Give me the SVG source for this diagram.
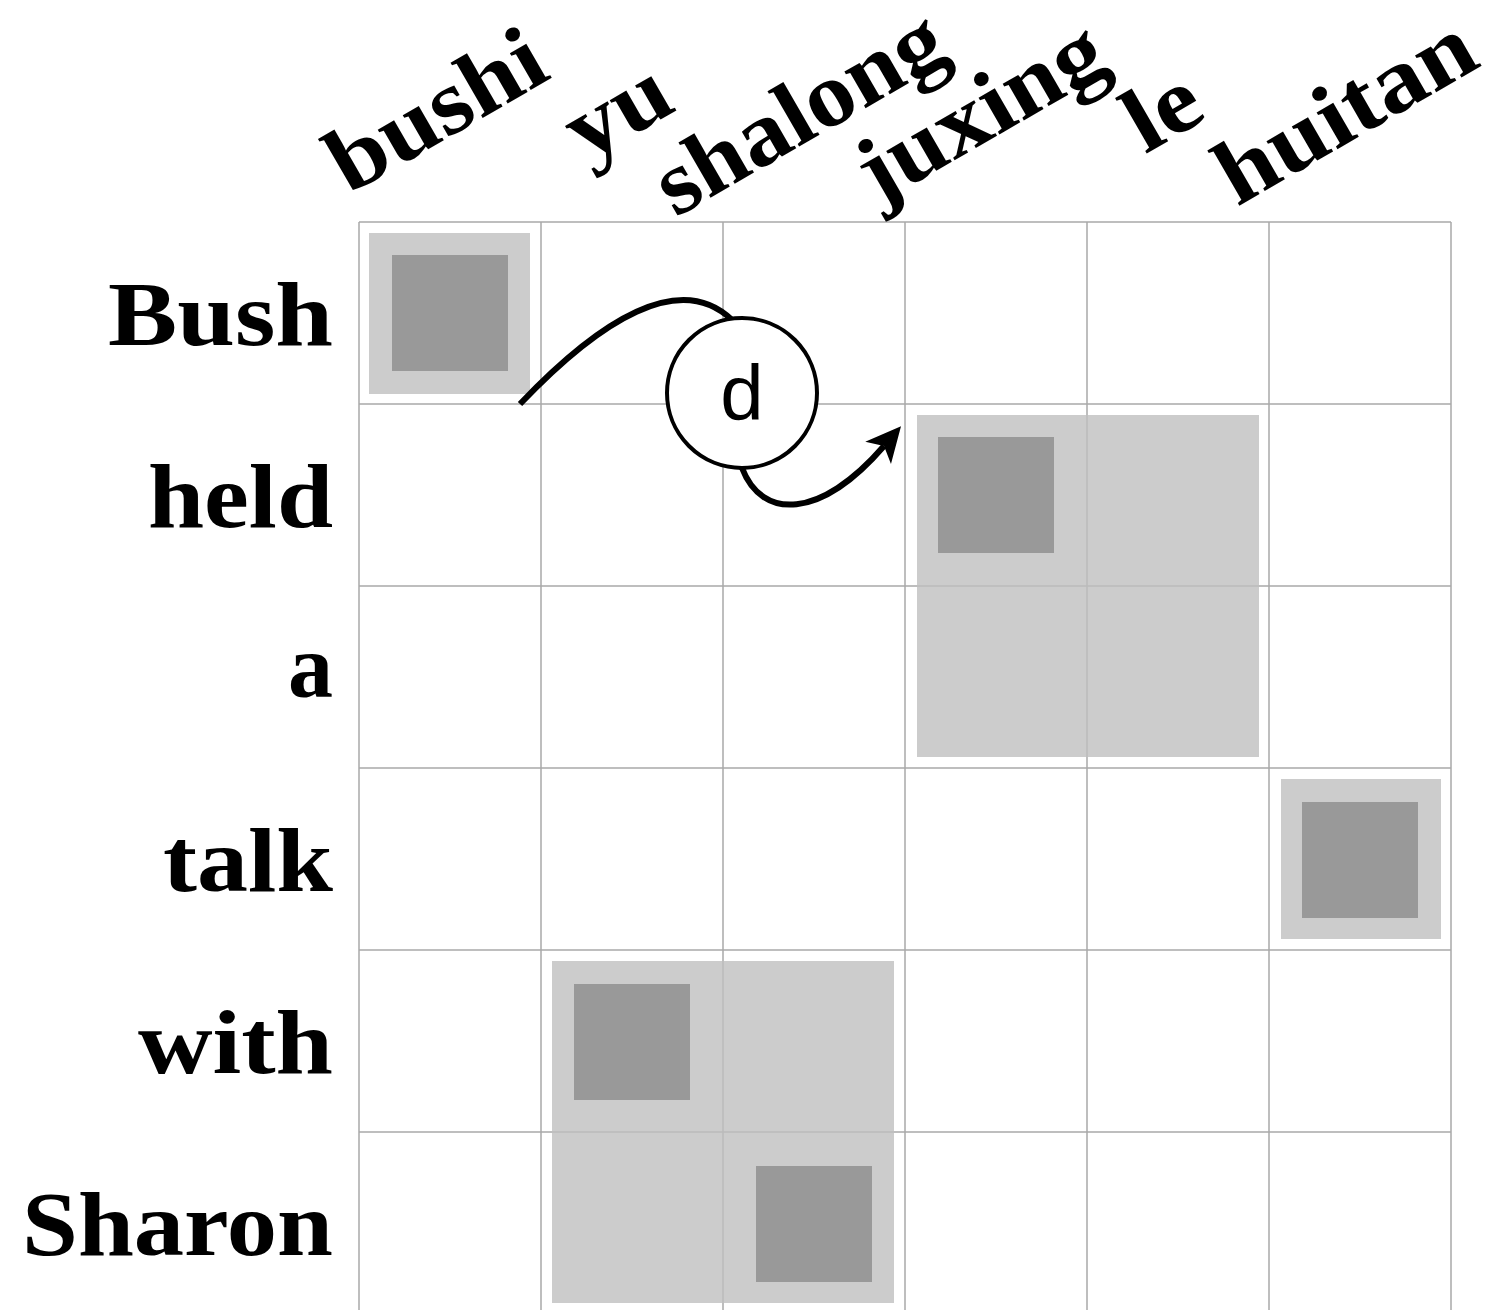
<svg xmlns="http://www.w3.org/2000/svg" width="1490" height="1310" viewBox="0 0 1490 1310">
<style>
.bg{fill:#fff}
.grid line{stroke:#a8a8a8;stroke-width:1.5}
.light{fill:#bfbfbf;fill-opacity:0.8}
.dark{fill:#999999}
.lbl{font-family:"Liberation Serif",serif;font-weight:bold;font-size:92px;fill:#000}
.edge{fill:none;stroke:#000;stroke-width:6}
.node circle{fill:#fff;stroke:#000;stroke-width:4}
.node text{font-family:"Liberation Sans",sans-serif;font-size:78px;fill:#000;text-anchor:middle}
</style>
<defs>
<marker id="arr" markerUnits="userSpaceOnUse" viewBox="-40 -22 44 44" markerWidth="44" markerHeight="44" refX="-26" refY="0" orient="auto">
<path d="M0,0 L-35,-17 L-26,0 L-35,17 Z" fill="#000"/>
</marker>
</defs>
<rect class="bg" x="0" y="0" width="1490" height="1310"/>
<g id="grid" class="grid">
<line x1="359" y1="222" x2="359" y2="1314"/>
<line x1="541" y1="222" x2="541" y2="1314"/>
<line x1="723" y1="222" x2="723" y2="1314"/>
<line x1="905" y1="222" x2="905" y2="1314"/>
<line x1="1087" y1="222" x2="1087" y2="1314"/>
<line x1="1269" y1="222" x2="1269" y2="1314"/>
<line x1="1451" y1="222" x2="1451" y2="1314"/>
<line x1="359" y1="222" x2="1451" y2="222"/>
<line x1="359" y1="404" x2="1451" y2="404"/>
<line x1="359" y1="586" x2="1451" y2="586"/>
<line x1="359" y1="768" x2="1451" y2="768"/>
<line x1="359" y1="950" x2="1451" y2="950"/>
<line x1="359" y1="1132" x2="1451" y2="1132"/>
</g>
<g id="blocks">
<rect class="light" x="369" y="233" width="161" height="161"/>
<rect class="dark" x="392" y="255" width="116" height="116"/>
<rect class="light" x="917" y="415" width="342" height="342"/>
<rect class="dark" x="938" y="437" width="116" height="116"/>
<rect class="light" x="1281" y="779" width="160" height="160"/>
<rect class="dark" x="1302" y="802" width="116" height="116"/>
<rect class="light" x="552" y="961" width="342" height="342"/>
<rect class="dark" x="574" y="984" width="116" height="116"/>
<rect class="dark" x="756" y="1166" width="116" height="116"/>
</g>
<g id="row-labels" class="lbl" text-anchor="end">
<text x="333" y="345" textLength="225" lengthAdjust="spacingAndGlyphs">Bush</text>
<text x="333" y="527" textLength="185" lengthAdjust="spacingAndGlyphs">held</text>
<text x="333" y="697" textLength="45" lengthAdjust="spacingAndGlyphs">a</text>
<text x="333" y="891" textLength="170" lengthAdjust="spacingAndGlyphs">talk</text>
<text x="333" y="1073" textLength="195" lengthAdjust="spacingAndGlyphs">with</text>
<text x="333" y="1255" textLength="311" lengthAdjust="spacingAndGlyphs">Sharon</text>
</g>
<g id="col-labels" class="lbl" text-anchor="middle">
<text transform="translate(451,136) rotate(-30)" textLength="236" lengthAdjust="spacingAndGlyphs">bushi</text>
<text transform="translate(632,136) rotate(-30)" textLength="108" lengthAdjust="spacingAndGlyphs">yu</text>
<text transform="translate(814,138) rotate(-30)" textLength="320" lengthAdjust="spacingAndGlyphs">shalong</text>
<text transform="translate(995,137) rotate(-30)" textLength="272" lengthAdjust="spacingAndGlyphs">juxing</text>
<text transform="translate(1177,136) rotate(-30)" textLength="74" lengthAdjust="spacingAndGlyphs">le</text>
<text transform="translate(1360,136) rotate(-30)" textLength="284" lengthAdjust="spacingAndGlyphs">huitan</text>
</g>
<g id="connectors">
<path class="edge" d="M520,404 C600,320 680,270 732,320"/>
<path class="edge" d="M742,468 C762,520 820,520 884,446" marker-end="url(#arr)"/>
</g>
<g id="node-d" class="node">
<circle cx="742" cy="393" r="75"/>
<text x="742" y="420">d</text>
</g>
</svg>
